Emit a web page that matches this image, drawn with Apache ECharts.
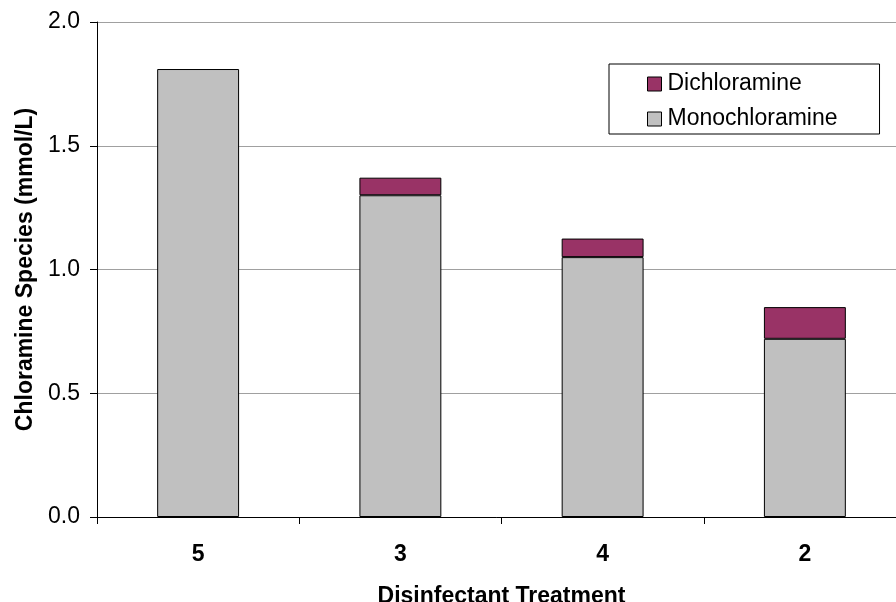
<!DOCTYPE html>
<html>
<head>
<meta charset="utf-8">
<script src="https://cdn.jsdelivr.net/npm/echarts@6/dist/echarts.min.js"></script>
<style>
  html, body { margin: 0; padding: 0; background: #fff; }
  #chart { width: 896px; height: 602px; }
</style>
</head>
<body>
<div id="chart"></div>
<script>
// treatments in plotted order
const treatments = ['5', '3', '4', '2']
// chloramine species, mmol/L
const monochloramine = [1.81, 1.30, 1.05, 0.72]
const dichloramine = [null, 0.071, 0.075, 0.128]
const yTicks = { min: 0, max: 2, interval: 0.5 }

const font = '"Liberation Sans", Arial, sans-serif'

const chart = echarts.init(document.getElementById('chart'))

chart.setOption({
  animation: false,
  textStyle: { fontFamily: font },
  grid: { left: 97, right: -10, top: 22, bottom: 85, containLabel: false, outerBoundsMode: 'none' },
  legend: {
    data: ['Dichloramine', 'Monochloramine'],
    orient: 'vertical',
    left: 609,
    top: 64,
    padding: [8, 42, 3, 38],
    itemGap: 11,
    itemWidth: 14,
    itemHeight: 14,
    icon: 'rect',
    borderColor: '#000',
    borderWidth: 1,
    textStyle: { fontFamily: font, fontSize: 23, color: '#000', lineHeight: 24, padding: [0, 0, 0, 1] },
    itemStyle: { borderColor: '#000', borderWidth: 1 }
  },
  xAxis: {
    type: 'category',
    data: treatments,
    name: 'Disinfectant Treatment',
    nameLocation: 'middle',
    nameGap: 68,
    nameTextStyle: { fontFamily: font, fontSize: 23, fontWeight: 'bold', color: '#000' },
    axisLine: { lineStyle: { color: '#000', width: 1 } },
    axisTick: { show: true, length: 7, lineStyle: { color: '#000' } },
    axisLabel: { fontFamily: font, fontSize: 23, fontWeight: 'bold', color: '#000', margin: 26 },
    splitLine: { show: false }
  },
  yAxis: {
    type: 'value',
    min: yTicks.min,
    max: yTicks.max,
    interval: yTicks.interval,
    name: 'Chloramine Species (mmol/L)',
    nameLocation: 'middle',
    nameGap: 60,
    nameTextStyle: { fontFamily: font, fontSize: 23, fontWeight: 'bold', color: '#000' },
    axisLine: { show: true, lineStyle: { color: '#000', width: 1 } },
    axisTick: { show: true, length: 7, lineStyle: { color: '#000' } },
    axisLabel: {
      fontFamily: font, fontSize: 23, color: '#000', margin: 17,
      formatter: v => v.toFixed(1)
    },
    splitLine: { show: true, lineStyle: { color: '#a0a0a0', width: 1 } }
  },
  series: [
    {
      name: 'Monochloramine',
      type: 'bar',
      stack: 'total',
      barWidth: '40.5%',
      data: monochloramine,
      itemStyle: { color: '#c0c0c0', borderColor: '#000', borderWidth: 1 }
    },
    {
      name: 'Dichloramine',
      type: 'bar',
      stack: 'total',
      barWidth: '40.5%',
      data: dichloramine,
      itemStyle: { color: '#993366', borderColor: '#000', borderWidth: 1 }
    }
  ]
})
</script>
</body>
</html>
